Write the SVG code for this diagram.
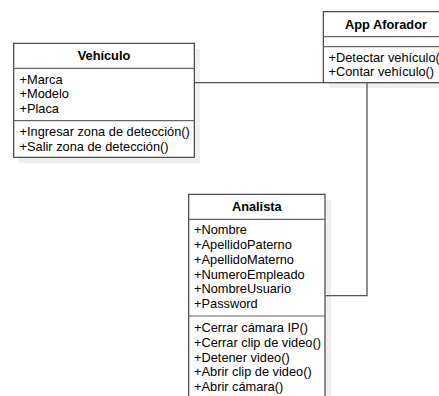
<svg xmlns="http://www.w3.org/2000/svg" width="439" height="396" viewBox="0 0 439 396">
<style>
.shadow{fill:#efefef;stroke:none}
.box{fill:#fff;stroke:#333;stroke-width:1.1}
.div{stroke:#666;stroke-width:1.2;fill:none}
.conn{stroke:#555;stroke-width:1.3;fill:none}
text{font-family:"Liberation Sans",Arial,sans-serif;font-size:12.8px;fill:#000}
.t{font-weight:bold;text-anchor:middle}
</style>
<rect width="439" height="396" fill="#fff"/>
<g id="vehiculo">
<rect class="shadow" x="19" y="49" width="181" height="114"/>
<rect class="box" x="13.7" y="43.3" width="180.6" height="114"/>
<line class="div" x1="13.7" y1="68.3" x2="194.3" y2="68.3"/>
<line class="div" x1="13.7" y1="120.7" x2="194.3" y2="120.7"/>
<text class="t" x="104" y="59.6">Vehículo</text>
<text x="19.5" y="83.6">+Marca</text>
<text x="19.5" y="98.3">+Modelo</text>
<text x="19.5" y="112.9">+Placa</text>
<text x="19.5" y="136.3">+Ingresar zona de detección()</text>
<text x="19.5" y="151.3">+Salir zona de detección()</text>
</g>
<g id="app-aforador">
<rect class="shadow" x="329" y="17" width="125" height="71"/>
<rect class="box" x="323.3" y="11.7" width="125" height="71"/>
<line class="div" x1="323.3" y1="36.7" x2="448.3" y2="36.7"/>
<line class="div" x1="323.3" y1="46.7" x2="448.3" y2="46.7"/>
<text class="t" x="386" y="28.6">App Aforador</text>
<text x="328.5" y="61.9">+Detectar vehículo()</text>
<text x="328.5" y="76.3">+Contar vehículo()</text>
</g>
<g id="analista">
<rect class="shadow" x="194" y="200" width="137" height="210"/>
<rect class="box" x="188.7" y="194.3" width="136.3" height="210"/>
<line class="div" x1="188.7" y1="219.3" x2="325" y2="219.3"/>
<line class="div" x1="188.7" y1="316" x2="325" y2="316"/>
<text class="t" x="256.8" y="211.3">Analista</text>
<text x="194" y="233.9">+Nombre</text>
<text x="194" y="248.9">+ApellidoPaterno</text>
<text x="194" y="263.6">+ApellidoMaterno</text>
<text x="194" y="278.6">+NumeroEmpleado</text>
<text x="194" y="293.3">+NombreUsuario</text>
<text x="194" y="308.3">+Password</text>
<text x="194" y="331.9">+Cerrar cámara IP()</text>
<text x="194" y="346.9">+Cerrar clip de video()</text>
<text x="194" y="361.6">+Detener video()</text>
<text x="194" y="376.3">+Abrir clip de video()</text>
<text x="194" y="391.3">+Abrir cámara()</text>
</g>
<g id="connectors">
<path class="conn" d="M194.9 82.7 H323.3"/>
<path class="conn" d="M367 83.3 V295.7 H325.6"/>
</g>
</svg>
